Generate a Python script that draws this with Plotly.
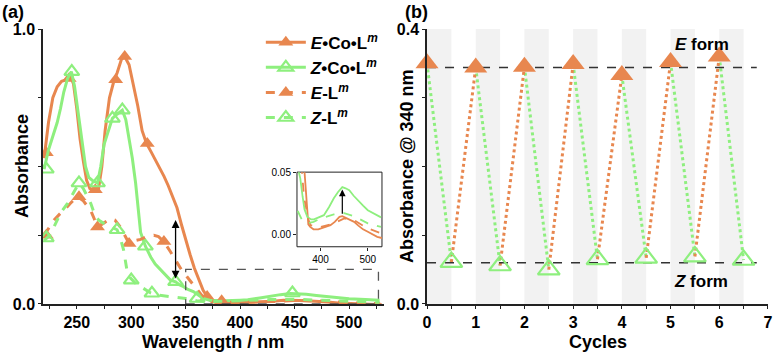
import plotly.graph_objects as go

# ---------------- Panel (a) data ----------------
wl_eco = [220, 224, 228, 232, 236, 240, 244, 247, 250, 253, 256, 259, 262, 266, 270, 273, 276, 280, 284, 287, 291, 294,
          298, 302, 306, 310, 314, 318, 322, 326, 330, 334, 338, 342, 346, 350, 354, 358, 362, 366, 370, 374, 378, 385,
          395, 410, 421, 430, 440, 446, 455, 465, 471, 480, 490, 500, 510, 520, 530]
ab_eco = [0.53, 0.66, 0.75, 0.79, 0.81, 0.815, 0.83, 0.80, 0.71, 0.60, 0.52, 0.45, 0.42, 0.415, 0.42, 0.50, 0.63, 0.75,
          0.81, 0.84, 0.89, 0.90, 0.87, 0.80, 0.72, 0.63, 0.584, 0.555, 0.525, 0.50, 0.465, 0.43, 0.39, 0.35, 0.29, 0.23,
          0.18, 0.13, 0.09, 0.05, 0.025, 0.008, 0.006, 0.004, 0.004, 0.006, 0.0074, 0.010, 0.014, 0.0146, 0.013, 0.011,
          0.010, 0.007, 0.004, 0.002, 0.0, -0.002, -0.003]
mk_eco_x = [222, 243, 267, 285.7, 294, 314.7, 369.7]
mk_eco_y = [0.55, 0.82, 0.415, 0.815, 0.90, 0.584, 0.027]

wl_zco = [220, 224, 228, 232, 235, 238, 241.5, 245, 248, 251, 255, 258, 261, 264, 269, 272, 275, 278, 282.7, 287, 291.8,
          295, 298, 301, 304, 306, 308.6, 313, 318, 322, 327, 332, 336, 340.7, 344, 348, 352, 357, 362, 366, 372, 380,
          386, 400, 407, 418, 428, 437, 446, 453, 460.7, 470, 478.6, 490, 500, 515, 528]
ab_zco = [0.49, 0.56, 0.61, 0.66, 0.71, 0.77, 0.82, 0.845, 0.79, 0.70, 0.59, 0.50, 0.46, 0.45, 0.44, 0.50, 0.58, 0.62,
          0.675, 0.69, 0.705, 0.67, 0.60, 0.53, 0.44, 0.36, 0.26, 0.21, 0.17, 0.145, 0.124, 0.10, 0.087, 0.081, 0.07,
          0.063, 0.053, 0.045, 0.03, 0.02, 0.014, 0.012, 0.012, 0.014, 0.0154, 0.022, 0.029, 0.034, 0.038, 0.037,
          0.0354, 0.031, 0.0274, 0.023, 0.0194, 0.016, 0.0136]
mk_zco_x = [222, 245.4, 269, 282.7, 291.8, 313, 340.7, 448]
mk_zco_y = [0.49, 0.845, 0.44, 0.675, 0.705, 0.21, 0.081, 0.04]

wl_el = [220, 225, 229, 235, 238, 245, 251, 256, 262.8, 266, 269, 275, 281, 285, 290, 294, 298, 303, 308.6, 314, 320.8,
         325, 330, 336, 342, 346, 351, 356, 360.5, 365, 369.7, 374, 378.6, 390, 400, 428.6, 450, 471, 490, 500, 528.6]
ab_el = [0.25, 0.28, 0.305, 0.33, 0.34, 0.37, 0.39, 0.375, 0.34, 0.31, 0.28, 0.295, 0.31, 0.305, 0.28, 0.25, 0.22, 0.23,
         0.235, 0.245, 0.25, 0.245, 0.227, 0.19, 0.148, 0.125, 0.10, 0.075, 0.05, 0.03, 0.02, 0.012, 0.0074, 0.006,
         0.006, 0.0088, 0.0128, 0.0114, 0.007, 0.0048, 0.0008]
mk_el_x = [222, 252, 269, 298, 330, 383]
mk_el_y = [0.25, 0.39, 0.28, 0.22, 0.227, 0.012]

wl_zl = [220, 225, 229, 235, 241.5, 246, 252, 256, 262.8, 266, 270, 274, 278, 283, 287, 290, 293, 296, 299.5, 304,
         308.6, 313, 317.8, 323, 330, 340, 350, 360, 371, 385, 400, 428, 450, 471, 500, 528]
ab_zl = [0.23, 0.25, 0.28, 0.33, 0.366, 0.40, 0.44, 0.42, 0.366, 0.33, 0.305, 0.295, 0.287, 0.28, 0.27, 0.24, 0.196,
         0.124, 0.093, 0.075, 0.063, 0.05, 0.04, 0.033, 0.03, 0.026, 0.02, 0.012, 0.0088, 0.010, 0.0128, 0.016, 0.017,
         0.0146, 0.0088, 0.006]
mk_zl_x = [222, 252, 287, 300, 319, 360.5]
mk_zl_y = [0.24, 0.44, 0.27, 0.087, 0.039, 0.02]

# ---------------- Panel (b) data ----------------
cyc_e = [0, 1, 2, 3, 4, 5, 6]
abs_e = [0.350, 0.344, 0.345, 0.349, 0.333, 0.352, 0.360]
cyc_z = [0.5, 1.5, 2.5, 3.5, 4.5, 5.5, 6.5]
abs_z = [0.061, 0.056, 0.050, 0.065, 0.067, 0.069, 0.064]
e_level = 0.344
z_level = 0.060

ORANGE = "#E8874F"
GREEN = "#8EEF7E"
FONT = "Arial, Liberation Sans, sans-serif"

fig = go.Figure()

series = [
    (wl_eco, ab_eco, mk_eco_x, mk_eco_y, ORANGE, "solid", True, "<i>E</i>•Co•L<sup><i>m</i></sup>"),
    (wl_zco, ab_zco, mk_zco_x, mk_zco_y, GREEN, "solid", False, "<i>Z</i>•Co•L<sup><i>m</i></sup>"),
    (wl_el, ab_el, mk_el_x, mk_el_y, ORANGE, "dash", True, "<i>E</i>-L<sup><i>m</i></sup>"),
    (wl_zl, ab_zl, mk_zl_x, mk_zl_y, GREEN, "dash", False, "<i>Z</i>-L<sup><i>m</i></sup>"),
]

def mk(color, filled, size):
    if filled:
        return dict(symbol="triangle-up", size=size, color=color, line=dict(width=0))
    return dict(symbol="triangle-up-open", size=size, color=color, line=dict(width=2.2, color=color))

for wx, wy, mx, my, col, dash, filled, name in series:
    fig.add_trace(go.Scatter(x=wx, y=wy, mode="lines", line=dict(color=col, width=3, dash=dash),
                             showlegend=False, xaxis="x", yaxis="y", cliponaxis=True))
    fig.add_trace(go.Scatter(x=mx, y=my, mode="markers", marker=mk(col, filled, 13),
                             showlegend=False, xaxis="x", yaxis="y", cliponaxis=True))
    fig.add_trace(go.Scatter(x=wx, y=wy, mode="lines", line=dict(color=col, width=1.8, dash=dash),
                             showlegend=False, xaxis="x3", yaxis="y3"))

for wx, wy, mx, my, col, dash, filled, name in series:
    fig.add_trace(go.Scatter(x=[None], y=[None], mode="lines+markers", name=name,
                             line=dict(color=col, width=3, dash=dash), marker=mk(col, filled, 13),
                             xaxis="x", yaxis="y"))

# Panel (b): dotted connecting lines
gx, gy, ox, oy = [], [], [], []
for i in range(len(cyc_e)):
    gx += [cyc_e[i], cyc_z[i], None]
    gy += [abs_e[i], abs_z[i], None]
    if i + 1 < len(cyc_e):
        ox += [cyc_z[i], cyc_e[i + 1], None]
        oy += [abs_z[i], abs_e[i + 1], None]
fig.add_trace(go.Scatter(x=gx, y=gy, mode="lines", line=dict(color=GREEN, width=3, dash="dot"),
                         showlegend=False, xaxis="x2", yaxis="y2"))
fig.add_trace(go.Scatter(x=ox, y=oy, mode="lines", line=dict(color=ORANGE, width=3, dash="dot"),
                         showlegend=False, xaxis="x2", yaxis="y2"))
fig.add_trace(go.Scatter(x=[0, 6.77], y=[e_level, e_level], mode="lines", line=dict(color="#333", width=1.5, dash="dash"),
                         showlegend=False, xaxis="x2", yaxis="y2"))
fig.add_trace(go.Scatter(x=[0, 6.77], y=[z_level, z_level], mode="lines", line=dict(color="#333", width=1.5, dash="dash"),
                         showlegend=False, xaxis="x2", yaxis="y2"))
fig.add_trace(go.Scatter(x=cyc_e, y=abs_e, mode="markers", marker=mk(ORANGE, True, 20),
                         showlegend=False, xaxis="x2", yaxis="y2", cliponaxis=False))
fig.add_trace(go.Scatter(x=cyc_z, y=abs_z, mode="markers", marker=mk(GREEN, False, 19),
                         showlegend=False, xaxis="x2", yaxis="y2", cliponaxis=False))

shapes = []
for i in range(7):
    shapes.append(dict(type="rect", xref="x2", yref="y2", x0=i, x1=i + 0.5, y0=0, y1=0.4,
                       fillcolor="#F2F2F2", line=dict(width=0), layer="below"))
shapes.append(dict(type="rect", xref="x", yref="y", x0=350, x1=527, y0=0.0, y1=0.126,
                   line=dict(color="#555", width=1.3, dash="dash"), fillcolor="rgba(0,0,0,0)"))
shapes.append(dict(type="rect", xref="paper", yref="paper", x0=0.3837, x1=0.4935, y0=0.299, y1=0.511,
                   line=dict(color="#222", width=1), fillcolor="white", layer="below"))

bold = dict(family=FONT, size=16, color="black", weight="bold")
axis_common = dict(showline=True, linecolor="#222", linewidth=1.5, ticks="outside", ticklen=3, tickwidth=1.2,
                   tickcolor="#222", showgrid=False, zeroline=False, tickfont=bold, ticklabeloverflow="allow")
tfont = dict(family=FONT, size=18, weight="bold", color="black")

def label(text, px, py, angle=0, font=tfont):
    return dict(text=text, x=px / 774, y=1 - py / 352, xref="paper", yref="paper", showarrow=False,
                xanchor="center", yanchor="middle", textangle=angle, font=font)

fig.update_layout(
    width=774, height=352, margin=dict(l=0, r=0, t=0, b=0, autoexpand=False),
    paper_bgcolor="white", plot_bgcolor="rgba(0,0,0,0)",
    font=dict(family=FONT, color="black"),
    xaxis=dict(domain=[0.0556, 0.496], range=[219, 532], tickvals=[250, 300, 350, 400, 450, 500],
               minor=dict(tickvals=[225, 275, 325, 375, 425, 475, 525], ticks="outside", ticklen=3, tickcolor="#222"),
               anchor="y", **axis_common),
    yaxis=dict(domain=[0.1364, 0.9176], range=[0, 1.0], tickvals=[0, 0.25, 0.5, 0.75, 1.0],
               ticktext=["0.0", "", "", "", "1.0"], anchor="x", **axis_common),
    xaxis2=dict(domain=[0.5517, 0.9922], range=[0, 7], tickvals=list(range(8)),
                minor=dict(tickvals=[0.5, 1.5, 2.5, 3.5, 4.5, 5.5, 6.5], ticks="outside", ticklen=3, tickcolor="#222"),
                anchor="y2", **axis_common),
    yaxis2=dict(domain=[0.1364, 0.9176], range=[0, 0.4], tickvals=[0, 0.1, 0.2, 0.3, 0.4],
                ticktext=["0.0", "", "", "", "0.4"], anchor="x2", **axis_common),
    xaxis3=dict(domain=[0.3837, 0.4935], range=[350, 530], tickvals=[400, 500], anchor="y3",
                showline=False, ticks="outside", ticklen=3, tickcolor="#222", showgrid=False, zeroline=False,
                tickfont=dict(family=FONT, size=10, color="black")),
    yaxis3=dict(domain=[0.299, 0.511], range=[-0.01, 0.05], tickvals=[0.0, 0.05], ticktext=["0.00", "0.05"],
                anchor="x3", showline=False, ticks="outside", ticklen=3, tickcolor="#222", showgrid=False,
                zeroline=False, tickfont=dict(family=FONT, size=10, color="black")),
    legend=dict(x=0.337, y=0.93, xanchor="left", yanchor="top", bgcolor="rgba(0,0,0,0)",
                font=dict(family=FONT, size=17, color="black", weight="bold"), tracegroupgap=0, itemwidth=40),
    shapes=shapes,
    annotations=[
        label("(a)", 13, 12),
        label("(b)", 416, 12),
        label("Wavelength / nm", 213, 342),
        label("Cycles", 598, 342),
        label("Absorbance", 22, 166, -90),
        label("Absorbance @ 340 nm", 407, 166, -90),
        dict(text="<i>E</i> form", x=5.65, y=0.378, xref="x2", yref="y2", showarrow=False,
             font=dict(family=FONT, size=17, weight="bold")),
        dict(text="<i>Z</i> form", x=5.63, y=0.033, xref="x2", yref="y2", showarrow=False,
             font=dict(family=FONT, size=17, weight="bold")),
        dict(x=340.7, y=0.305, ax=340.7, ay=0.087, xref="x", yref="y", axref="x", ayref="y", text="",
             showarrow=True, arrowhead=2, arrowside="end+start", arrowwidth=1.3, arrowsize=1.2, arrowcolor="black"),
        dict(x=446, y=0.036, ax=446, ay=0.0154, xref="x3", yref="y3", axref="x3", ayref="y3", text="",
             showarrow=True, arrowhead=2, arrowwidth=1.2, arrowsize=1.1, arrowcolor="black"),
    ],
)

fig.write_html("out.html", post_script="document.body.style.margin='0';",
               config={"displayModeBar": False})
